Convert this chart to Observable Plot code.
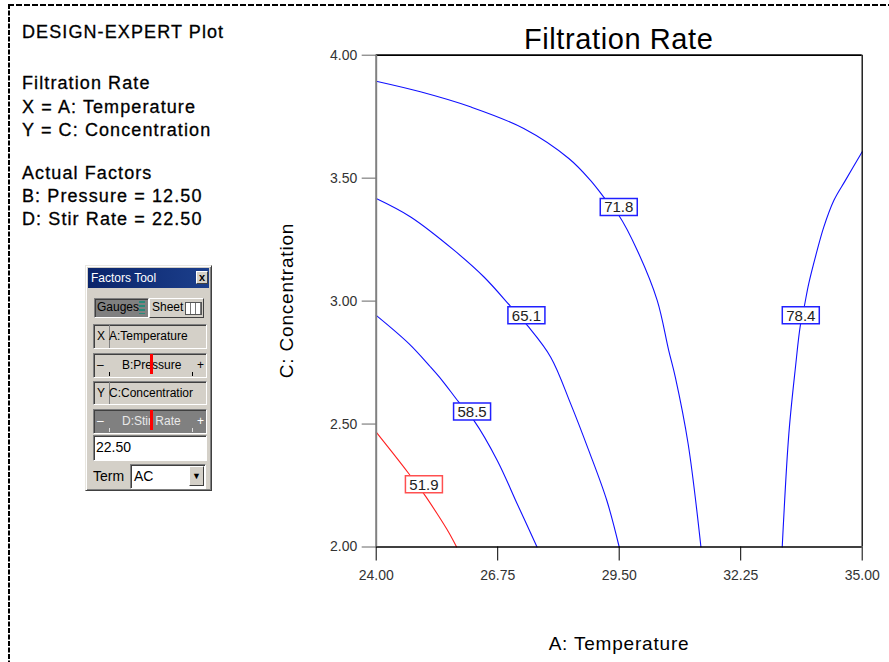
<!DOCTYPE html>
<html>
<head>
<meta charset="utf-8">
<script src="https://cdn.jsdelivr.net/npm/d3@7"></script>
<script src="https://cdn.jsdelivr.net/npm/@observablehq/plot@0.6"></script>
<style>
  body { margin: 0; background: #fff; font-family: "Liberation Sans", Arial, sans-serif; }
  #wrap { position: relative; width: 889px; height: 662px; overflow: hidden; background: #fff; }
  #wrap > svg { position: absolute; left: 0; top: 0; }
  .ft { position: absolute; left: 85px; top: 265px; width: 127px; height: 226px; box-sizing: border-box;
        background: #d4d0c8; border: 1px solid; border-color: #e8e6e0 #404040 #404040 #e8e6e0;
        box-shadow: inset 1px 1px #fff, inset -1px -1px #808080; font-size: 12px; color: #000; }
  .ft div { position: absolute; box-sizing: border-box; white-space: nowrap; overflow: hidden; }
  .tb { left: 2px; top: 2px; width: 121px; height: 20px; background: linear-gradient(to right, #0a246a, #1c3f8c);
        color: #fff; line-height: 20px; padding-left: 3px; font-size: 12px; }
  .cl { left: 110px; top: 5px; width: 12px; height: 13px; background: #d4d0c8; border: 1px solid;
        border-color: #fff #404040 #404040 #fff; font-size: 11px; font-weight: bold; line-height: 10px; text-align: center; color: #000; }
  .raised { border: 1px solid; border-color: #fff #404040 #404040 #fff; }
  .sunk { border: 1px solid; border-color: #808080 #fff #fff #808080; box-shadow: inset 1px 1px #404040; }
  .row { left: 7px; width: 114px; height: 25px; line-height: 22px; font-size: 12px; }
  .mk { width: 3px; background: #f00; top: 0; height: 20px; }
  .tk { width: 1px; height: 4px; background: #000; bottom: 1px; }
</style>
</head>
<body>
<div id="wrap"></div>
<script>
// ---------- data ----------
const xTicks = [24.00, 26.75, 29.50, 32.25, 35.00];
const yTicks = [2.00, 2.50, 3.00, 3.50, 4.00];
const levels = [51.9, 58.5, 65.1, 71.8, 78.4];
const levelColors = ["#ff2020", "#1010ff", "#1010ff", "#1010ff", "#1010ff"];
const boxColors = ["#ff5050", "#2020ff", "#2020ff", "#2020ff", "#2020ff"];

// contour lines (A: Temperature, C: Concentration)
const c519x = [24.00, 24.36, 24.74, 24.91, 25.08, 25.38, 25.64, 25.82];
const c519y = [2.467, 2.386, 2.298, 2.256, 2.216, 2.135, 2.060, 2.000];
const c585x = [24.00, 24.74, 25.23, 25.49, 25.87, 26.21, 26.74, 27.19, 27.64];
const c585y = [2.942, 2.827, 2.732, 2.678, 2.589, 2.515, 2.352, 2.176, 2.000];
const c651x = [24.00, 24.78, 25.76, 26.44, 27.04, 27.42, 27.95, 28.40, 28.81, 29.22, 29.50];
const c651y = [3.417, 3.342, 3.207, 3.098, 2.979, 2.901, 2.772, 2.583, 2.393, 2.189, 2.000];
const c718x = [24.00, 25.00, 26.13, 27.34, 28.36, 28.85, 29.15, 29.49, 29.91, 30.36, 30.62, 30.77, 31.06, 31.35];
const c718y = [3.894, 3.851, 3.790, 3.702, 3.580, 3.491, 3.423, 3.349, 3.206, 3.003, 2.800, 2.691, 2.420, 2.000];
const c784x = [35.00, 34.62, 34.36, 34.13, 33.98, 33.79, 33.69, 33.60, 33.49, 33.34, 33.19];
const c784y = [3.607, 3.491, 3.410, 3.301, 3.206, 3.071, 2.979, 2.901, 2.732, 2.461, 2.000];

// contour label positions
const labelX = [25.08, 26.17, 27.40, 29.49, 33.61];
const labelY = [2.255, 2.551, 2.942, 3.383, 2.942];

const leftLines = ["DESIGN-EXPERT Plot", "Filtration Rate", "X = A: Temperature", "Y = C: Concentration",
                   "Actual Factors", "B: Pressure = 12.50", "D: Stir Rate = 22.50"];
const leftBaselines = [37.7, 89, 112.5, 135.5, 179, 202, 225];
const chartTitle = "Filtration Rate";
const xTitle = "A: Temperature";
const yTitle = "C: Concentration";

// ---------- build tables ----------
const contours = [[c519x, c519y], [c585x, c585y], [c651x, c651y], [c718x, c718y], [c784x, c784y]];
const rows = [];
contours.forEach(([xs, ys], k) => xs.forEach((x, i) => rows.push({level: levels[k], x, y: ys[i]})));
const labels = levels.map((lv, i) => ({level: lv, x: labelX[i], y: labelY[i], box: boxColors[i]}));

const boxSymbol = {draw(ctx) {
  ctx.moveTo(-18.5, -8.5); ctx.lineTo(18.5, -8.5); ctx.lineTo(18.5, 8.5); ctx.lineTo(-18.5, 8.5); ctx.closePath();
}};

const W = 889, H = 662;
const font = "'Liberation Sans', Arial, sans-serif";

const chart = Plot.plot({
  width: W, height: H,
  marginLeft: 375.7, marginRight: W - 861.7, marginTop: 54.7, marginBottom: H - 546.5,
  x: {domain: [24, 35]},
  y: {domain: [2, 4]},
  color: {domain: levels, range: levelColors},
  style: {fontFamily: font, background: "transparent", overflow: "visible"},
  marks: [
    Plot.line(rows, {x: "x", y: "y", z: "level", stroke: "level", strokeWidth: 1.1, curve: "catmull-rom"}),
    Plot.ruleY([4], {stroke: "#000", strokeWidth: 1.7}),
    Plot.ruleX([35], {stroke: "#000", strokeWidth: 1.3}),
    Plot.ruleY([2], {stroke: "#000", strokeWidth: 1.3}),
    Plot.ruleX([24], {stroke: "#808080", strokeWidth: 2}),
    Plot.axisX({ticks: xTicks, tickFormat: d => d.toFixed(2), tickSize: 14, tickPadding: 9, fontSize: 14,
                label: null, stroke: "#000", fill: "#333"}),
    Plot.axisY({ticks: yTicks, tickFormat: d => d.toFixed(2), tickSize: 14, tickPadding: 5, fontSize: 14,
                label: null, stroke: "#666", fill: "#333"}),
    Plot.dot(labels, {x: "x", y: "y", symbol: boxSymbol, r: 10, fill: "#fff", stroke: d => d.box, strokeWidth: 1.5}),
    Plot.text(labels, {x: "x", y: "y", text: d => d.level.toFixed(1), fontSize: 15, fill: "#222", dy: 0.5})
  ]
});
const wrap = document.getElementById("wrap");
wrap.appendChild(chart);

// ---------- overlay texts & page border ----------
const ov = d3.select(wrap).append("svg").attr("width", W).attr("height", H)
  .style("font-family", font).style("pointer-events", "none");
ov.append("line").attr("x1", 8).attr("x2", W).attr("y1", 5).attr("y2", 5)
  .attr("stroke", "#000").attr("stroke-width", 2.2).attr("stroke-dasharray", "6,2");
ov.append("line").attr("x1", 9).attr("x2", 9).attr("y1", 4).attr("y2", H)
  .attr("stroke", "#000").attr("stroke-width", 2).attr("stroke-dasharray", "5,1.5");
leftLines.forEach((t, i) => ov.append("text").attr("x", 22).attr("y", leftBaselines[i])
  .attr("font-size", 18).attr("letter-spacing", 1.1).attr("fill", "#000")
  .attr("stroke", "#000").attr("stroke-width", 0.3).text(t));
ov.append("text").attr("x", 618.7).attr("y", 49).attr("text-anchor", "middle")
  .attr("font-size", 29).attr("letter-spacing", 0.6).attr("fill", "#000").text(chartTitle);
ov.append("text").attr("x", 619).attr("y", 650).attr("text-anchor", "middle")
  .attr("font-size", 19).attr("letter-spacing", 0.8).attr("fill", "#000").text(xTitle);
ov.append("text").attr("transform", "translate(293,300.5) rotate(-90)").attr("text-anchor", "middle")
  .attr("font-size", 19).attr("letter-spacing", 0.8).attr("fill", "#000").text(yTitle);

// ---------- Factors Tool widget ----------
const ft = document.createElement("div");
ft.className = "ft";
ft.innerHTML = `
  <div class="tb">Factors Tool</div>
  <div class="cl">x</div>
  <div class="sunk" style="left:8px;top:32px;width:55px;height:20px;background:#808080;line-height:17px;padding-left:2px;font-size:12px;color:#000;">Gauges<span style="position:absolute;left:44px;top:2px;width:6px;height:13px;background:repeating-linear-gradient(#2a8a7a 0 2px,#808080 2px 4px);"></span></div>
  <div class="raised" style="left:63px;top:32px;width:55px;height:20px;line-height:17px;padding-left:2px;font-size:12px;">Sheet<span style="position:absolute;left:35px;top:3px;width:15px;height:11px;border:1px solid #555;background:repeating-linear-gradient(90deg,#fff 0 4px,#777 4px 5px),#fff;"></span></div>
  <div class="row sunk" style="top:58px;"><span style="position:absolute;left:3px;">X</span><span style="position:absolute;left:15px;top:0;width:1px;height:23px;background:#808080;"></span><span style="position:absolute;left:15px;">A:Temperature</span></div>
  <div class="row sunk" style="top:87px;"><span style="position:absolute;left:3px;">–</span><span style="position:absolute;left:28px;">B:Pressure</span><span style="position:absolute;left:103px;">+</span><div class="mk" style="left:56px;"></div><div class="tk" style="left:15px;"></div><div class="tk" style="left:98px;"></div></div>
  <div class="row sunk" style="top:115px;height:24px;"><span style="position:absolute;left:3px;">Y</span><span style="position:absolute;left:15px;top:0;width:1px;height:22px;background:#808080;"></span><span style="position:absolute;left:15px;">C:Concentratior</span></div>
  <div class="row sunk" style="top:143px;background:#808080;color:#e8e8e8;"><span style="position:absolute;left:3px;color:#fff;">–</span><span style="position:absolute;left:28px;">D:Stir Rate</span><span style="position:absolute;left:103px;color:#fff;">+</span><div class="mk" style="left:56px;"></div><div class="tk" style="left:15px;background:#ddd;"></div><div class="tk" style="left:98px;background:#ddd;"></div></div>
  <div class="sunk" style="left:7px;top:169px;width:114px;height:26px;background:#fff;font-size:14px;line-height:23px;padding-left:2px;">22.50</div>
  <div style="left:7px;top:200px;font-size:14px;line-height:20px;">Term</div>
  <div class="sunk" style="left:44px;top:198px;width:76px;height:25px;background:#fff;font-size:14px;line-height:22px;padding-left:3px;">AC<div class="raised" style="right:1px;top:1px;width:15px;height:20px;background:#d4d0c8;font-size:9px;line-height:19px;text-align:center;">&#9660;</div></div>
`;
wrap.appendChild(ft);
</script>
</body>
</html>
